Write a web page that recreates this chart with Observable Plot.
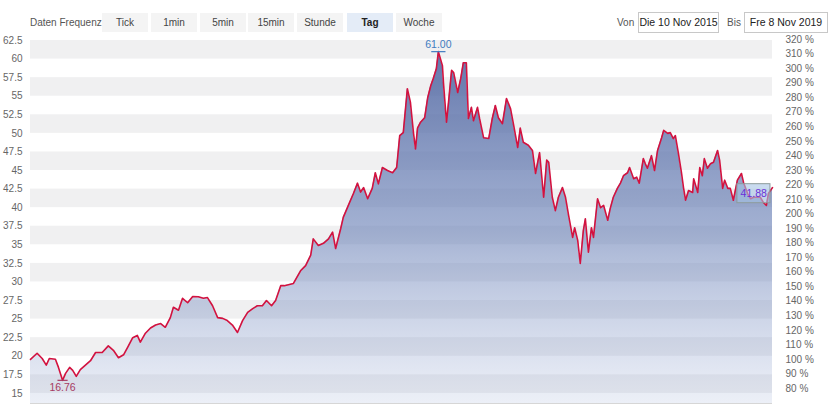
<!DOCTYPE html>
<html><head><meta charset="utf-8">
<script src="https://cdn.jsdelivr.net/npm/d3@7"></script>
<script src="https://cdn.jsdelivr.net/npm/@observablehq/plot@0.6"></script>
<style>
body{margin:0;background:#fff;font-family:"Liberation Sans",Arial,Helvetica,sans-serif;}
#wrap{position:relative;width:830px;height:416px;overflow:hidden;}
.lbl{position:absolute;top:13px;height:19px;line-height:19px;font-size:10px;color:#555;}
.btn{position:absolute;top:13px;height:19px;line-height:19px;width:46px;text-align:center;font-size:10px;color:#444;background:#f4f4f4;}
.btn.on{background:#e4ecf7;font-weight:bold;color:#222;}
.box{position:absolute;top:12px;height:19px;line-height:19px;border:1px solid #c8c8c8;text-align:center;font-size:10.5px;color:#222;box-sizing:border-box;height:21px;}
#chart{position:absolute;left:0;top:35px;}
</style>
</head><body>
<div id="wrap">
  <div class="lbl" style="left:30px">Daten Frequenz</div>
  <div class="btn" style="left:102px">Tick</div>
  <div class="btn" style="left:151px">1min</div>
  <div class="btn" style="left:200px">5min</div>
  <div class="btn" style="left:248px">15min</div>
  <div class="btn" style="left:297px">Stunde</div>
  <div class="btn on" style="left:347px">Tag</div>
  <div class="btn" style="left:396px">Woche</div>
  <div class="lbl" style="left:617px">Von</div>
  <div class="box" style="left:638px;width:81px">Die 10 Nov 2015</div>
  <div class="lbl" style="left:727px">Bis</div>
  <div class="box" style="left:744px;width:84px">Fre 8 Nov 2019</div>
  <div id="chart"></div>
</div>
<script>
const dates = ["2015-11-10","2015-11-23","2015-12-03","2015-12-11","2015-12-17","2015-12-29","2016-01-04","2016-01-12","2016-01-18","2016-01-26","2016-02-01","2016-02-08","2016-02-16","2016-02-26","2016-03-07","2016-03-17","2016-03-30","2016-04-11","2016-04-21","2016-05-01","2016-05-11","2016-05-19","2016-05-29","2016-06-07","2016-06-13","2016-06-23","2016-07-03","2016-07-13","2016-07-23","2016-08-01","2016-08-11","2016-08-17","2016-08-27","2016-09-04","2016-09-14","2016-09-24","2016-10-05","2016-10-15","2016-10-23","2016-11-02","2016-11-12","2016-11-22","2016-12-01","2016-12-11","2016-12-21","2016-12-31","2017-01-10","2017-01-20","2017-01-29","2017-02-08","2017-02-16","2017-02-26","2017-03-06","2017-03-16","2017-03-23",
"2017-04-10","2017-04-24","2017-05-04","2017-05-14","2017-05-19","2017-05-29","2017-06-08","2017-06-18","2017-06-26","2017-07-02","2017-07-12","2017-07-17","2017-07-27","2017-08-06","2017-08-14","2017-08-20","2017-08-26","2017-09-03","2017-09-12","2017-09-18","2017-09-24","2017-10-02","2017-10-12","2017-10-22","2017-10-30","2017-11-05","2017-11-12","2017-11-20","2017-11-26","2017-12-02","2017-12-06","2017-12-10","2017-12-16","2017-12-24","2017-12-30","2018-01-05","2018-01-10","2018-01-16","2018-01-20","2018-01-28","2018-01-30","2018-02-05","2018-02-09","2018-02-15","2018-02-19","2018-02-27","2018-03-05","2018-03-10","2018-03-16","2018-03-20","2018-03-26","2018-03-30","2018-04-07","2018-04-11","2018-04-19","2018-04-29","2018-05-06","2018-05-12","2018-05-18","2018-05-26","2018-06-03","2018-06-11","2018-06-17","2018-06-25","2018-06-30","2018-07-06","2018-07-16","2018-07-24","2018-07-30","2018-08-07","2018-08-15","2018-08-21","2018-08-25","2018-09-01","2018-09-07","2018-09-13","2018-09-21","2018-09-27","2018-10-03","2018-10-11","2018-10-15","2018-10-21","2018-10-26","2018-11-01","2018-11-05","2018-11-11","2018-11-17","2018-11-21","2018-11-29","2018-12-05","2018-12-11","2018-12-19","2018-12-24","2018-12-30","2019-01-07","2019-01-13","2019-01-19","2019-01-27","2019-01-31","2019-02-08","2019-02-14","2019-02-19","2019-02-27","2019-03-03","2019-03-07","2019-03-15","2019-03-21","2019-03-27","2019-04-04","2019-04-08","2019-04-16","2019-04-21","2019-04-27","2019-05-01","2019-05-07","2019-05-13","2019-05-17","2019-05-21","2019-05-27","2019-06-04","2019-06-06","2019-06-14","2019-06-18","2019-06-23","2019-06-27","2019-07-03","2019-07-09","2019-07-15","2019-07-23","2019-07-27","2019-08-02","2019-08-06","2019-08-12","2019-08-17","2019-08-23","2019-08-31","2019-09-08","2019-09-12","2019-09-20","2019-09-26","2019-10-02","2019-10-09","2019-10-15","2019-10-21","2019-10-27","2019-10-31","2019-11-08"];
const prices = [19.57,20.4,19.7,18.8,19.7,19.6,18.5,16.76,17.7,18.5,18.1,17.3,18.2,18.8,19.4,20.5,20.5,21.4,20.8,19.8,20.2,21.2,22.5,22.8,21.9,23.1,23.8,24.2,24.4,23.9,25.2,26.6,26.2,27.8,27.2,28.05,28.0,27.8,27.9,26.8,25.2,25.1,24.8,24.2,23.2,24.8,25.9,26.4,26.8,26.8,27.5,26.8,27.5,29.5,29.5,
29.8,31.5,32.2,33.6,35.8,34.9,35.2,35.8,36.7,34.5,37.2,38.7,40.3,41.9,43.3,42.1,42.7,41.2,42.6,44.7,43.2,45.4,45.0,44.7,45.4,49.7,50.1,56.0,54.2,50.1,47.9,50.7,51.5,52.1,54.8,56.4,57.4,58.7,61.0,59.1,56.8,51.5,54.2,58.5,58.2,55.5,57.4,59.5,59.5,52,53.5,51.7,53.5,52,49.4,49.3,52,53.75,52.1,51.3,54.7,53.3,51.1,48.1,50.7,48.8,48.4,47.7,44.6,47.4,41.4,46.4,46.1,41.4,39.6,41.4,42.7,41.4,39.0,36.0,37.3,35.6,32.5,36.9,38.5,34.0,37.3,36.0,41.2,40.0,40.3,38.3,39.9,41.4,42.6,43.3,44.3,44.7,45.4,43.9,44.1,43.3,46.6,45.9,45.3,47.0,45.0,47.7,49.4,50.4,50.0,50.1,49.3,49.7,47.3,44.7,42.7,41.0,42.3,42.05,43.9,42.05,45.4,44.3,46.6,45.3,45.9,46.1,47.7,46.4,42.6,43.7,42.6,42.6,41.0,43.7,44.6,43.4,41.9,41.2,41.4,41.4,41.4,40.7,40.3,41.9,42.7];

const leftTicks = [15,17.5,20,22.5,25,27.5,30,32.5,35,37.5,40,42.5,45,47.5,50,52.5,55,57.5,60,62.5];
const bandStarts = [15,20,25,30,35,40,45,50,55,60];
const pctTicks = [80,90,100,110,120,130,140,150,160,170,180,190,200,210,220,230,240,250,260,270,280,290,300,310,320];
const basePrice = 19.57;
const lastLabel = {date: "2019-10-02", value: 41.88};

const parse = d3.utcParse("%Y-%m-%d");
const data = dates.map((d, i) => ({date: parse(d), price: prices[i]}));
const yMin = 13.64, yMax = 62.5;
const maxPt = data.reduce((a, b) => b.price > a.price ? b : a);
const minPt = data.reduce((a, b) => b.price < a.price ? b : a);
const last = {date: parse(lastLabel.date), value: lastLabel.value};
const offDays = (d, n) => new Date(+d + n * 864e5);

const defs = () => {
  const ns = "http://www.w3.org/2000/svg";
  const g = document.createElementNS(ns, "defs");
  const lg = document.createElementNS(ns, "linearGradient");
  lg.setAttribute("id", "areaGrad");
  lg.setAttribute("x1", "0"); lg.setAttribute("y1", "0");
  lg.setAttribute("x2", "0"); lg.setAttribute("y2", "1");
  [[0, "rgb(78,100,160)", 0.88], [0.5, "rgb(105,128,182)", 0.62], [1, "rgb(150,168,210)", 0.18]].forEach(([o, c, op]) => {
    const s = document.createElementNS(ns, "stop");
    s.setAttribute("offset", o); s.setAttribute("stop-color", c); s.setAttribute("stop-opacity", op);
    lg.appendChild(s);
  });
  g.appendChild(lg);
  return g;
};

const chart = Plot.plot({
  width: 830,
  height: 381,
  marginTop: 5,
  marginBottom: 13,
  marginLeft: 30,
  marginRight: 58,
  style: {fontFamily: "'Liberation Sans', Arial, sans-serif", fontSize: "10px", background: "transparent"},
  x: {type: "utc", domain: [parse("2015-11-10"), parse("2019-11-08")], axis: null},
  y: {domain: [yMin, yMax]},
  marks: [
    defs,
    Plot.rect(bandStarts, {y1: d => d, y2: d => d + 2.5, fill: "#f0f0f1"}),
    Plot.areaY(data, {x: "date", y1: () => yMin, y2: "price", fill: "url(#areaGrad)"}),
    Plot.ruleY([yMin], {stroke: "#d6d6d6"}),
    Plot.lineY(data, {x: "date", y: "price", stroke: "#d3123f", strokeWidth: 1.6}),
    Plot.axisY(leftTicks, {anchor: "left", tickSize: 0, tickPadding: 8, color: "#666",
      tickFormat: d => Number.isInteger(d) ? String(d) : d.toFixed(1)}),
    Plot.axisY(pctTicks.map(p => p * basePrice / 100), {anchor: "right", tickSize: 0, tickPadding: 13, color: "#666",
      tickFormat: d => Math.round(d / basePrice * 100) + " %"}),
    Plot.link([maxPt], {x1: d => offDays(d.date, -14), x2: d => offDays(d.date, 14), y1: "price", y2: "price", stroke: "#3f7cc0", strokeWidth: 1.2}),
    Plot.text([maxPt], {x: "date", y: "price", text: d => d.price.toFixed(2), dy: -7, fill: "#3f7cc0", fontSize: 10.5}),
    Plot.link([minPt], {x1: d => offDays(d.date, -10), x2: d => offDays(d.date, 10), y1: "price", y2: "price", stroke: "#a63a62", strokeWidth: 1.2}),
    Plot.text([minPt], {x: "date", y: "price", text: d => d.price.toFixed(2), dy: 7, fill: "#a63a62", fontSize: 10.5}),
    Plot.rect([last], {x1: d => offDays(d.date, -32), x2: d => offDays(d.date, 33), y1: d => d.value - 1.28, y2: d => d.value + 1.28,
      fill: "rgb(165,195,228)", fillOpacity: 0.6, stroke: "#8d9b9b"}),
    Plot.text([last], {x: "date", y: "value", text: d => d.value.toFixed(2), fill: "#6a30d8", fontSize: 10.5})
  ]
});
document.getElementById("chart").appendChild(chart);
</script>
</body></html>
